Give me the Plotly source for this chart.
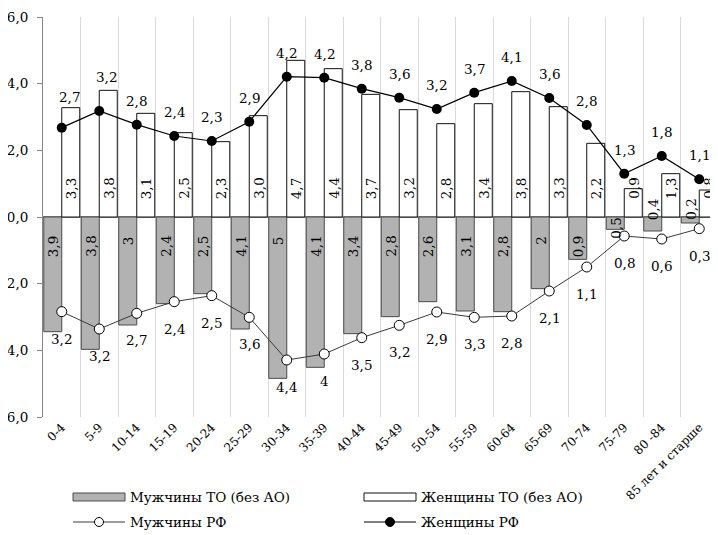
import plotly.graph_objects as go

# ---------------- data ----------------
categories = ["0-4", "5-9", "10-14", "15-19", "20-24", "25-29", "30-34", "35-39",
              "40-44", "45-49", "50-54", "55-59", "60-64", "65-69", "70-74",
              "75-79", "80 -84", "85 лет и старше"]

# bars (percent), male bars drawn downward
men_to = [3.44, 3.97, 3.24, 2.60, 2.30, 3.36, 4.84, 4.51, 3.50, 2.99, 2.54, 2.82,
          2.84, 2.15, 1.27, 0.37, 0.42, 0.18]
men_to_labels = ["3,9", "3,8", "3", "2,4", "2,5", "4,1", "5", "4,1", "3,4", "2,8",
                 "2,6", "3,1", "2,8", "2", "0,9", "0,5", "0,4", "0,2"]

women_to = [3.28, 3.80, 3.11, 2.53, 2.26, 3.04, 4.70, 4.45, 3.68, 3.22, 2.80, 3.40,
            3.76, 3.31, 2.21, 0.85, 1.30, 0.81]
women_to_labels = ["3,3", "3,8", "3,1", "2,5", "2,3", "3,0", "4,7", "4,4", "3,7", "3,2",
                   "2,8", "3,4", "3,8", "3,3", "2,2", "0,9", "1,3", "0,8"]

# lines (percent), male line drawn downward
men_rf = [2.84, 3.36, 2.89, 2.54, 2.36, 3.01, 4.29, 4.11, 3.62, 3.25, 2.85, 3.01,
          2.97, 2.22, 1.50, 0.57, 0.66, 0.35]
men_rf_labels = ["3,2", "3,2", "2,7", "2,4", "2,5", "3,6", "4,4", "4", "3,5", "3,2",
                 "2,9", "3,3", "2,8", "2,1", "1,1", "0,8", "0,6", "0,3"]

women_rf = [2.68, 3.18, 2.77, 2.43, 2.28, 2.86, 4.21, 4.18, 3.85, 3.58, 3.24, 3.73,
            4.08, 3.57, 2.76, 1.30, 1.83, 1.13]
women_rf_labels = ["2,7", "3,2", "2,8", "2,4", "2,3", "2,9", "4,2", "4,2", "3,8", "3,6",
                   "3,2", "3,7", "4,1", "3,6", "2,8", "1,3", "1,8", "1,1"]

y_tickvals = [-6, -4, -2, 0, 2, 4, 6]
y_ticktext = ["6,0", "4,0", "2,0", "0,0", "2,0", "4,0", "6,0"]

legend_names = ["Мужчины ТО (без АО)", "Женщины ТО (без АО)", "Мужчины РФ", "Женщины РФ"]

# ---------------- style ----------------
FONT = "DejaVu Serif"
LAB_SIZE = 13.5
OFF = 8                      # the page body adds an 8px margin around the figure
W, H = 718 - OFF, 535 - OFF
ML, MR, MT = 43 - OFF, 0, 17 - OFF
MB = H - (417 - OFF)
PW, PH = W - ML - MR, H - MT - MB
MEN_FILL = "#b2b2b2"
MEN_EDGE = "#4a4a4a"
AXIS_GRAY = "#868686"

fig = go.Figure()

fig.add_trace(go.Bar(
    x=categories, y=[-v for v in men_to], name=legend_names[0],
    marker=dict(color=MEN_FILL, line=dict(color=MEN_EDGE, width=1)),
    showlegend=False, hoverinfo="skip"))
fig.add_trace(go.Bar(
    x=categories, y=women_to, name=legend_names[1],
    marker=dict(color="white", line=dict(color="#111111", width=1)),
    showlegend=False, hoverinfo="skip"))
fig.add_trace(go.Scatter(
    x=categories, y=[-v for v in men_rf], name=legend_names[2], mode="lines+markers",
    line=dict(color="#3a3a3a", width=1),
    marker=dict(symbol="circle", size=10, color="white", line=dict(color="black", width=1)),
    showlegend=False, hoverinfo="skip", cliponaxis=False))
fig.add_trace(go.Scatter(
    x=categories, y=women_rf, name=legend_names[3], mode="lines+markers",
    line=dict(color="black", width=1.2),
    marker=dict(symbol="circle", size=10, color="black"),
    showlegend=False, hoverinfo="skip", cliponaxis=False))

annotations = []
lab_font = dict(family=FONT, size=LAB_SIZE, color="black")

# point labels (a few moved clear of the bars, as in the original)
women_label_shift = {0: (8, 31), 1: (7, 34)}
for i, (c, v, t) in enumerate(zip(categories, women_rf, women_rf_labels)):
    xs, ys = women_label_shift.get(i, (0, 24))
    annotations.append(dict(x=c, y=v, text=t, showarrow=False, xshift=xs, yshift=ys,
                            font=lab_font, xanchor="center", yanchor="middle"))
for c, v, t in zip(categories, men_rf, men_rf_labels):
    annotations.append(dict(x=c, y=-v, text=t, showarrow=False, yshift=-27,
                            font=lab_font, xanchor="center", yanchor="middle"))

# rotated bar labels near the zero line
for c, t in zip(categories, women_to_labels):
    annotations.append(dict(x=c, y=0, text=t, showarrow=False, textangle=-90,
                            xshift=9, yshift=16, xanchor="center", yanchor="bottom",
                            font=lab_font))
male_label_shift = {15: ("top", 1), 16: ("bottom", -5), 17: ("bottom", -5)}
for i, (c, t) in enumerate(zip(categories, men_to_labels)):
    anchor, shift = male_label_shift.get(i, ("top", -17))
    annotations.append(dict(x=c, y=0, text=t, showarrow=False, textangle=-90,
                            xshift=-9, yshift=shift, xanchor="center", yanchor=anchor,
                            font=lab_font))

# ---------------- legend (drawn below the plot) ----------------
# positions given in screen pixels of the 718x535 picture
def px_x(p):
    return (p - OFF - ML) / PW

def px_y(p):
    return (H - MB - (p - OFF)) / PH

shapes = []
leg_cols = [73, 364]
leg_rows = [497, 522]
sw_w = 52
shapes.append(dict(type="rect", xref="paper", yref="paper",
                   x0=px_x(leg_cols[0]), x1=px_x(leg_cols[0] + sw_w),
                   y0=px_y(leg_rows[0] + 4), y1=px_y(leg_rows[0] - 4),
                   fillcolor=MEN_FILL, line=dict(color=MEN_EDGE, width=1)))
shapes.append(dict(type="rect", xref="paper", yref="paper",
                   x0=px_x(leg_cols[1]), x1=px_x(leg_cols[1] + sw_w),
                   y0=px_y(leg_rows[0] + 4), y1=px_y(leg_rows[0] - 4),
                   fillcolor="white", line=dict(color="#111111", width=1)))
shapes.append(dict(type="line", xref="paper", yref="paper",
                   x0=px_x(leg_cols[0]), x1=px_x(leg_cols[0] + sw_w),
                   y0=px_y(leg_rows[1]), y1=px_y(leg_rows[1]),
                   line=dict(color="#3a3a3a", width=1)))
shapes.append(dict(type="line", xref="paper", yref="paper",
                   x0=px_x(leg_cols[1]), x1=px_x(leg_cols[1] + sw_w),
                   y0=px_y(leg_rows[1]), y1=px_y(leg_rows[1]),
                   line=dict(color="black", width=1.2)))
for col, fill in zip(leg_cols, ["white", "black"]):
    shapes.append(dict(type="circle", xref="paper", yref="paper",
                       xsizemode="pixel", ysizemode="pixel",
                       xanchor=px_x(col + sw_w / 2), yanchor=px_y(leg_rows[1]),
                       x0=-4.5, x1=4.5, y0=-4.5, y1=4.5,
                       fillcolor=fill, line=dict(color="black", width=1)))

leg_font = dict(family=FONT, size=LAB_SIZE, color="black")
for k, name in enumerate(legend_names):
    row, col = divmod(k, 2)
    annotations.append(dict(xref="paper", yref="paper",
                            x=px_x(leg_cols[col] + sw_w + 3), y=px_y(leg_rows[row]),
                            text=name, showarrow=False, xanchor="left", yanchor="middle",
                            font=leg_font))

fig.update_layout(
    width=W, height=H,
    margin=dict(l=ML, r=MR, t=MT, b=MB, autoexpand=False),
    paper_bgcolor="white", plot_bgcolor="white",
    barmode="group", bargap=0.04, bargroupgap=0,
    font=dict(family=FONT, size=LAB_SIZE, color="black"),
    showlegend=False,
    annotations=annotations,
    shapes=shapes,
)

fig.update_xaxes(
    type="category", categoryorder="array", categoryarray=categories,
    range=[-0.5, len(categories) - 0.5], autorange=False,
    tickson="boundaries", ticks="", showgrid=True, gridcolor="#d9d9d9", gridwidth=1,
    tickangle=-45, tickfont=dict(family=FONT, size=12, color="black"),
    showline=False, zeroline=False, automargin=False,
)
fig.update_yaxes(
    range=[-6, 6], tickvals=y_tickvals, ticktext=y_ticktext,
    showgrid=False, zeroline=True, zerolinecolor=AXIS_GRAY, zerolinewidth=2,
    showline=True, linecolor=AXIS_GRAY, linewidth=1,
    ticks="outside", ticklen=5, tickcolor=AXIS_GRAY, ticklabelstandoff=6,
    tickfont=dict(family=FONT, size=LAB_SIZE, color="black"), automargin=False,
)

fig.write_html("out.html")
